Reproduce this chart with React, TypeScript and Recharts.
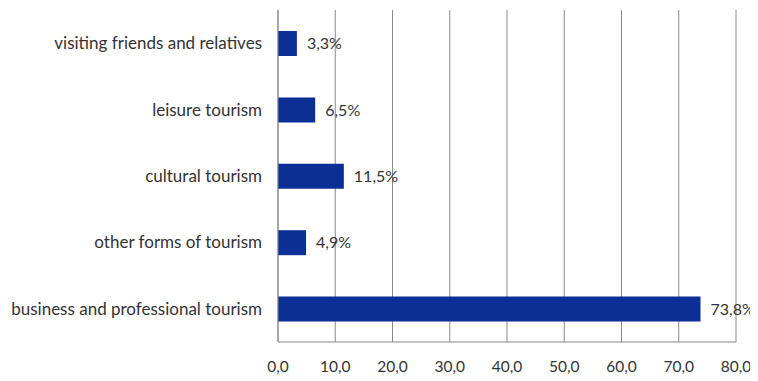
import React from 'react';
import { BarChart, Bar, XAxis, YAxis, CartesianGrid, LabelList } from 'recharts';

const categories = [
  'visiting friends and relatives',
  'leisure tourism',
  'cultural tourism',
  'other forms of tourism',
  'business and professional tourism',
];
const shares = [3.3, 6.5, 11.5, 4.9, 73.8];
const xTicks = [0, 10, 20, 30, 40, 50, 60, 70, 80];

const data = categories.map((name, i) => ({ name, value: shares[i] }));
const fmt = (v: number) => Number(v).toFixed(1).replace('.', ',');
const font = "Lato, 'Open Sans', 'Noto Sans', sans-serif";

export default function App() {
  return (
    <BarChart
      width={750}
      height={373}
      data={data}
      layout="vertical"
      margin={{ top: 2, right: 22, bottom: 0, left: 0 }}
      barCategoryGap={0}
      style={{ overflow: 'visible' }}
    >
      <CartesianGrid horizontal={false} vertical={true} stroke="#8a8a8a" strokeWidth={1} />
      <XAxis
        type="number"
        domain={[0, 80]}
        ticks={xTicks}
        tickFormatter={fmt}
        axisLine={{ stroke: '#8a8a8a' }}
        tickLine={false}
        tickSize={0}
        tickMargin={19}
        height={39}
        tick={{ fill: '#333', fontSize: 15.5, fontFamily: font }}
        interval={0}
      />
      <YAxis
        type="category"
        dataKey="name"
        width={270}
        axisLine={{ stroke: '#8a8a8a' }}
        tickLine={false}
        tickSize={0}
        tickMargin={16}
        tick={{ fill: '#333', fontSize: 17, fontFamily: font }}
        interval={0}
      />
      <Bar dataKey="value" fill="#0b2f95" barSize={25} isAnimationActive={false}>
        <LabelList
          dataKey="value"
          position="right"
          offset={10}
          formatter={(v: any) => fmt(v) + '%'}
          style={{ fill: '#333', fontSize: 16, fontFamily: font }}
        />
      </Bar>
    </BarChart>
  );
}
